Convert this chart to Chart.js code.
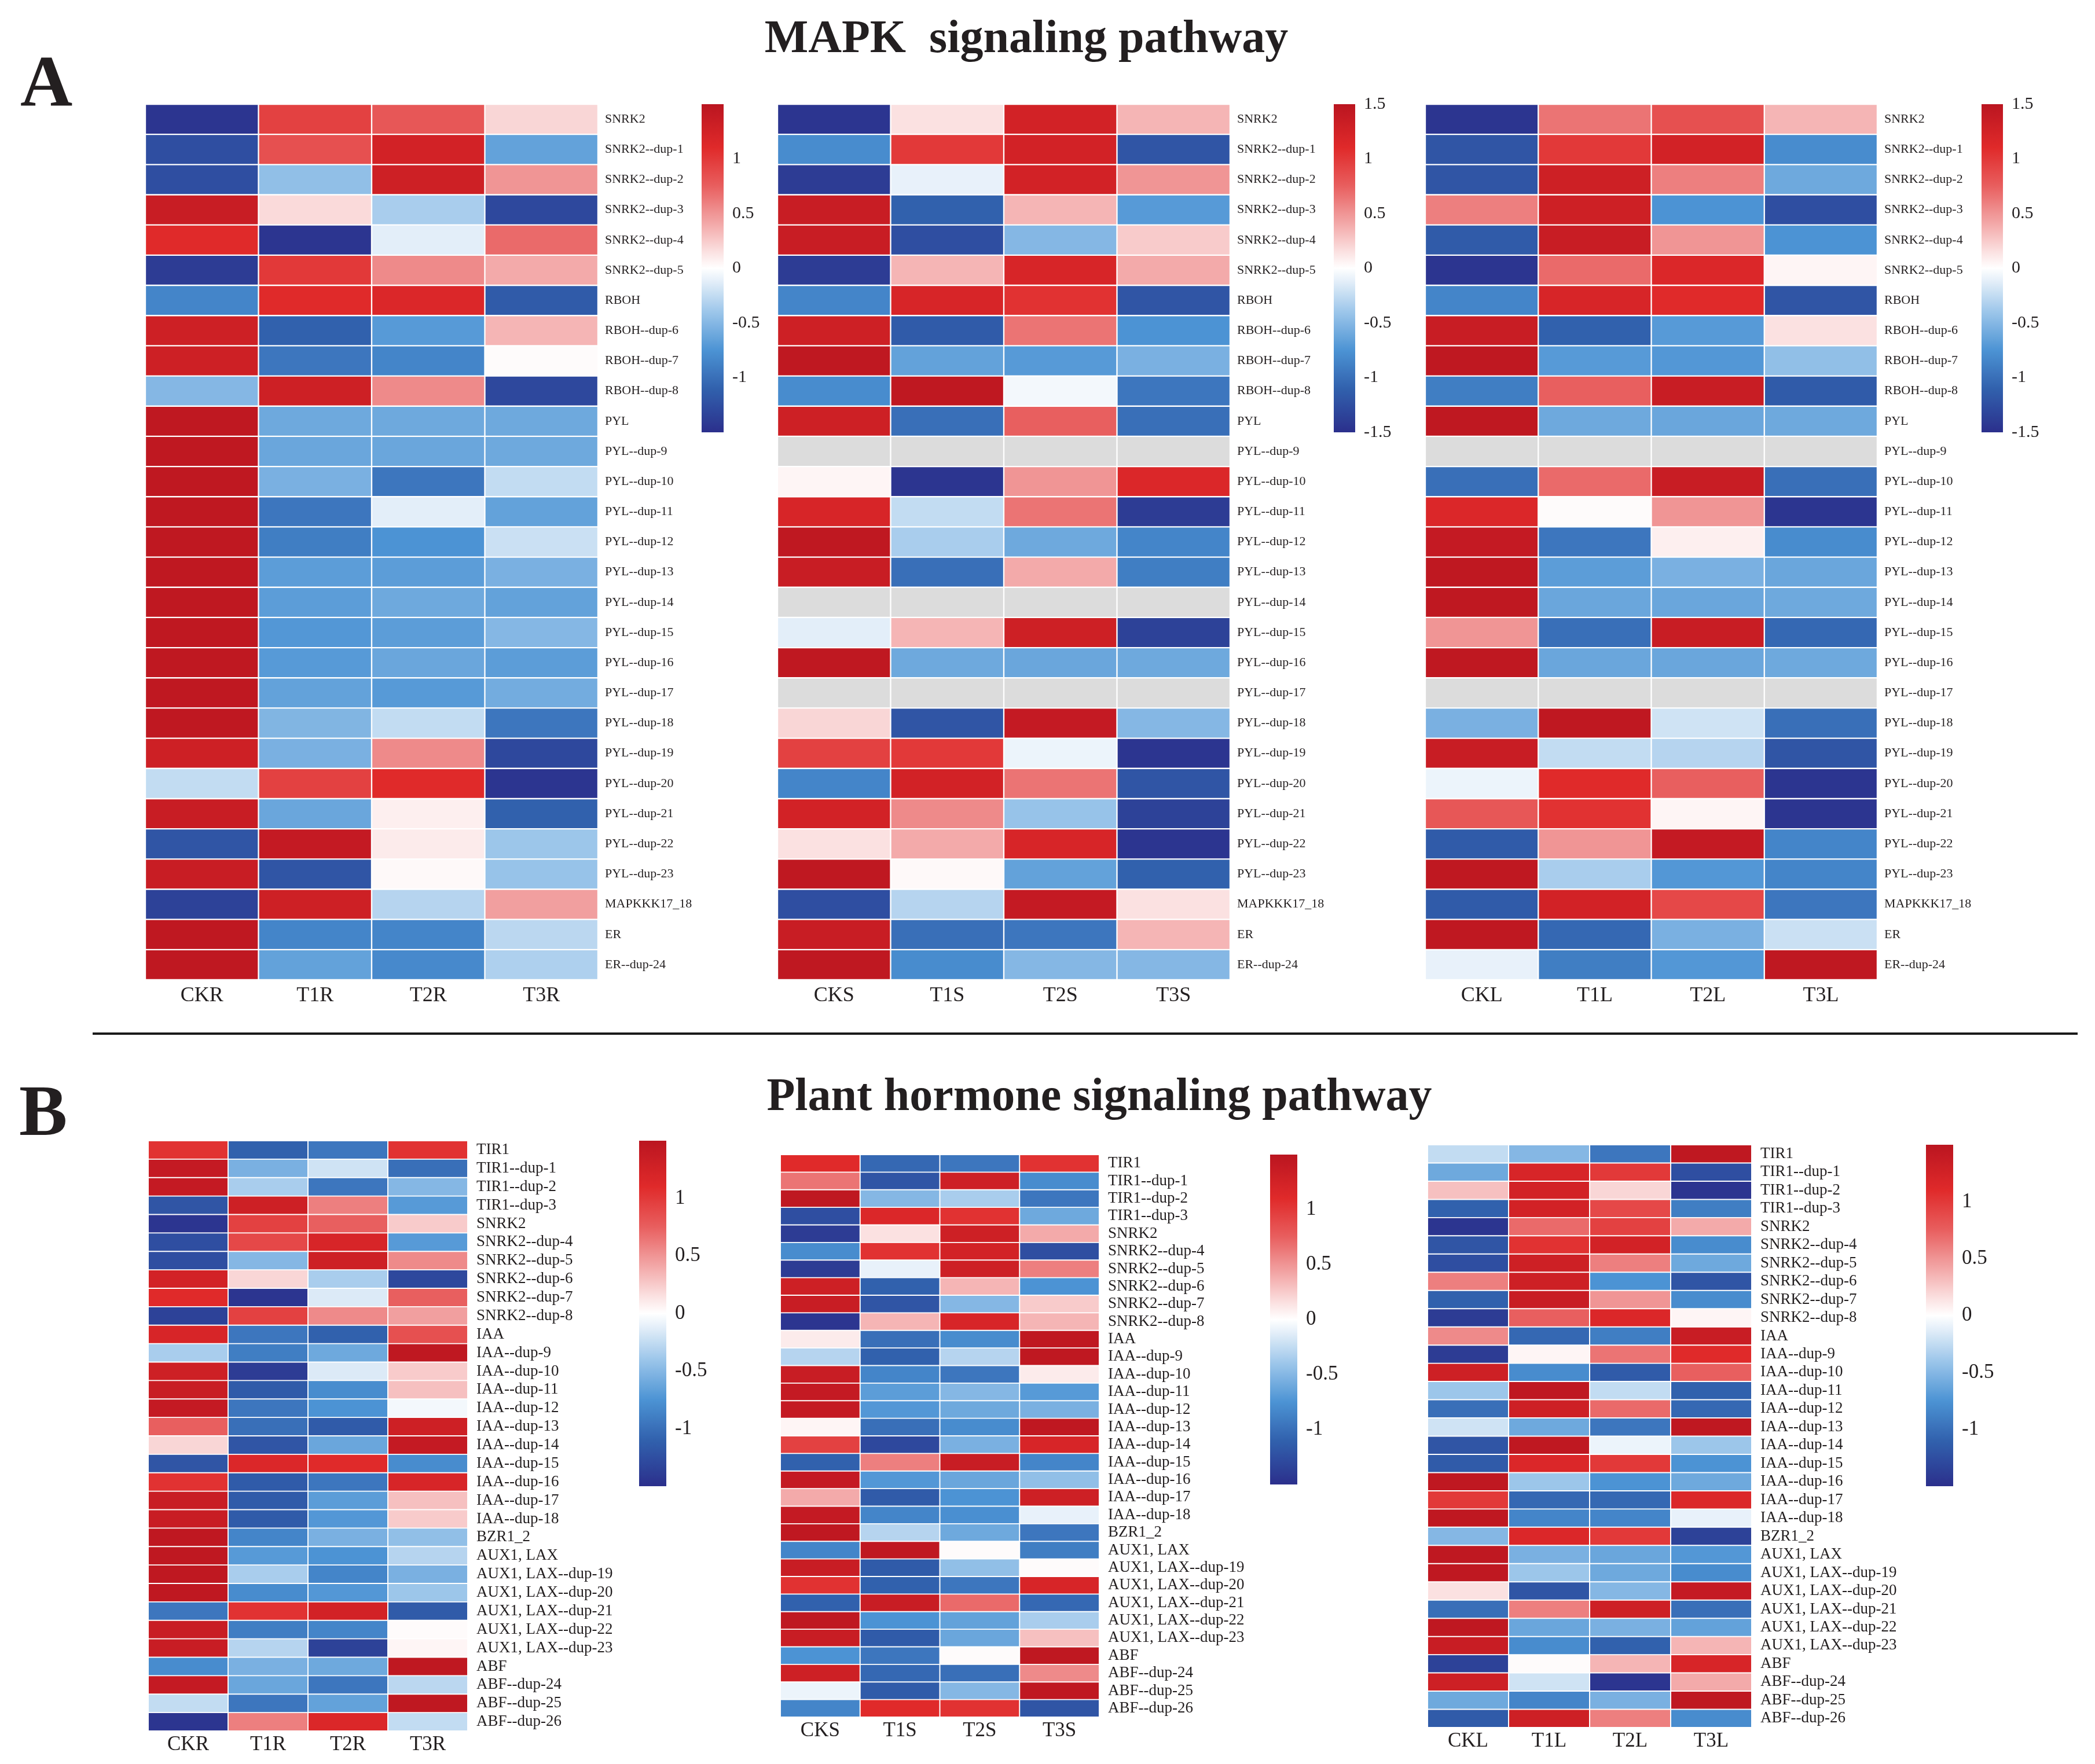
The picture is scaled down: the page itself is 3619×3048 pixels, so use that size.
<!DOCTYPE html>
<html>
<head>
<meta charset="utf-8">
<script src="https://cdn.jsdelivr.net/npm/chart.js@4.4.1/dist/chart.umd.min.js"></script>
<style>
  html, body { margin: 0; padding: 0; background: #fff; }
  #page { position: relative; width: 3619px; height: 3048px; background: #fff; overflow: hidden;
          font-family: "Liberation Serif", "Times New Roman", serif; color: #231f20; }
  .txt { position: absolute; white-space: pre; line-height: 1; font-weight: bold; }
  .rule { position: absolute; left: 160px; top: 1784px; width: 3429px; height: 4px; background: #1a1a1a; }
  canvas { position: absolute; }
</style>
</head>
<body>
<div id="page">
  <div class="txt" style="left:35px;top:78px;font-size:125px;">A</div>
  <div class="txt" style="left:1773px;top:23px;font-size:80px;transform:translateX(-50%);">MAPK  signaling pathway</div>
  <div class="rule"></div>
  <div class="txt" style="left:33px;top:1857px;font-size:125px;">B</div>
  <div class="txt" style="left:1899px;top:1851px;font-size:80px;transform:translateX(-50%);">Plant hormone signaling pathway</div>
</div>
<script>
// row / column labels
const mapkGenes = ['SNRK2', 'SNRK2--dup-1', 'SNRK2--dup-2', 'SNRK2--dup-3', 'SNRK2--dup-4', 'SNRK2--dup-5',
  'RBOH', 'RBOH--dup-6', 'RBOH--dup-7', 'RBOH--dup-8',
  'PYL', 'PYL--dup-9', 'PYL--dup-10', 'PYL--dup-11', 'PYL--dup-12', 'PYL--dup-13', 'PYL--dup-14',
  'PYL--dup-15', 'PYL--dup-16', 'PYL--dup-17', 'PYL--dup-18', 'PYL--dup-19', 'PYL--dup-20',
  'PYL--dup-21', 'PYL--dup-22', 'PYL--dup-23', 'MAPKKK17_18', 'ER', 'ER--dup-24'];
const hormoneGenes = ['TIR1', 'TIR1--dup-1', 'TIR1--dup-2', 'TIR1--dup-3',
  'SNRK2', 'SNRK2--dup-4', 'SNRK2--dup-5', 'SNRK2--dup-6', 'SNRK2--dup-7', 'SNRK2--dup-8',
  'IAA', 'IAA--dup-9', 'IAA--dup-10', 'IAA--dup-11', 'IAA--dup-12', 'IAA--dup-13', 'IAA--dup-14',
  'IAA--dup-15', 'IAA--dup-16', 'IAA--dup-17', 'IAA--dup-18', 'BZR1_2',
  'AUX1, LAX', 'AUX1, LAX--dup-19', 'AUX1, LAX--dup-20', 'AUX1, LAX--dup-21', 'AUX1, LAX--dup-22',
  'AUX1, LAX--dup-23', 'ABF', 'ABF--dup-24', 'ABF--dup-25', 'ABF--dup-26'];
const rootCols = ['CKR', 'T1R', 'T2R', 'T3R'];
const stemCols = ['CKS', 'T1S', 'T2S', 'T3S'];
const leafCols = ['CKL', 'T1L', 'T2L', 'T3L'];

// colour bar ticks
const ticksShort = [1, 0.5, 0, -0.5, -1];
const ticksFull = [1.5, 1, 0.5, 0, -0.5, -1, -1.5];

// scaled expression, one row per gene (null = no data, grey)
const mapkRoot = [
  [-1.45, 0.95, 0.8, 0.2], [-1.25, 0.85, 1.25, -0.65], [-1.25, -0.45, 1.3, 0.5],
  [1.35, 0.18, -0.35, -1.3], [1.1, -1.45, -0.12, 0.7], [-1.4, 1.0, 0.55, 0.4],
  [-0.85, 1.1, 1.15, -1.15], [1.3, -1.1, -0.7, 0.35], [1.3, -0.95, -0.85, 0.02],
  [-0.5, 1.3, 0.55, -1.3], [1.45, -0.6, -0.6, -0.6], [1.45, -0.62, -0.62, -0.6],
  [1.45, -0.55, -0.95, -0.25], [1.45, -0.95, -0.12, -0.65], [1.45, -0.9, -0.75, -0.22],
  [1.45, -0.68, -0.68, -0.55], [1.45, -0.68, -0.6, -0.65], [1.45, -0.72, -0.68, -0.5],
  [1.45, -0.7, -0.62, -0.68], [1.45, -0.65, -0.7, -0.58], [1.45, -0.52, -0.25, -0.95],
  [1.3, -0.55, 0.55, -1.3], [-0.25, 0.95, 1.1, -1.45], [1.35, -0.62, 0.08, -1.1],
  [-1.2, 1.4, 0.1, -0.4], [1.35, -1.2, 0.03, -0.42], [-1.35, 1.3, -0.3, 0.45],
  [1.45, -0.85, -0.85, -0.28], [1.45, -0.65, -0.82, -0.33]
];
const mapkStem = [
  [-1.45, 0.15, 1.25, 0.35], [-0.8, 1.0, 1.25, -1.2], [-1.4, -0.1, 1.25, 0.5],
  [1.35, -1.1, 0.35, -0.7], [1.35, -1.25, -0.5, 0.25], [-1.4, 0.35, 1.2, 0.4],
  [-0.85, 1.2, 1.05, -1.2], [1.3, -1.15, 0.65, -0.75], [1.45, -0.65, -0.7, -0.55],
  [-0.8, 1.45, -0.05, -0.95], [1.3, -1.0, 0.75, -1.0], [null, null, null, null],
  [0.05, -1.45, 0.5, 1.15], [1.2, -0.25, 0.65, -1.4], [1.45, -0.35, -0.6, -0.85],
  [1.35, -1.0, 0.4, -0.9], [null, null, null, null], [-0.12, 0.35, 1.3, -1.35],
  [1.45, -0.6, -0.62, -0.6], [null, null, null, null], [0.2, -1.2, 1.4, -0.5],
  [0.95, 1.0, -0.08, -1.45], [-0.85, 1.25, 0.65, -1.2], [1.25, 0.55, -0.42, -1.35],
  [0.15, 0.4, 1.2, -1.45], [1.45, 0.03, -0.65, -1.1], [-1.25, -0.3, 1.4, 0.15],
  [1.35, -1.0, -0.95, 0.35], [1.45, -0.8, -0.5, -0.5]
];
const mapkLeaf = [
  [-1.45, 0.65, 0.85, 0.35], [-1.2, 1.0, 1.25, -0.8], [-1.2, 1.3, 0.6, -0.6],
  [0.6, 1.3, -0.75, -1.25], [-1.15, 1.35, 0.5, -0.75], [-1.45, 0.7, 1.15, 0.05],
  [-0.85, 1.2, 1.1, -1.2], [1.35, -1.1, -0.7, 0.15], [1.45, -0.7, -0.72, -0.45],
  [-0.9, 0.75, 1.35, -1.15], [1.45, -0.6, -0.62, -0.6], [null, null, null, null],
  [-1.0, 0.7, 1.35, -1.0], [1.15, 0.02, 0.5, -1.45], [1.4, -0.95, 0.08, -0.8],
  [1.45, -0.68, -0.55, -0.62], [1.45, -0.62, -0.62, -0.6], [0.5, -1.0, 1.35, -1.05],
  [1.45, -0.62, -0.62, -0.6], [null, null, null, null], [-0.55, 1.45, -0.2, -1.0],
  [1.35, -0.25, -0.3, -1.2], [-0.08, 1.1, 0.75, -1.45], [0.8, 1.05, 0.05, -1.45],
  [-1.15, 0.5, 1.4, -0.85], [1.45, -0.35, -0.72, -0.85], [-1.15, 1.25, 0.9, -0.95],
  [1.45, -1.05, -0.55, -0.22], [-0.1, -0.9, -0.72, 1.45]
];
const hormoneRoot = [
  [1.05, -1.1, -0.95, 1.05], [1.4, -0.55, -0.2, -1.0], [1.4, -0.35, -0.95, -0.5], [-1.2, 1.3, 0.6, -0.7],
  [-1.45, 0.95, 0.75, 0.25], [-1.25, 0.9, 1.2, -0.7], [-1.25, -0.5, 1.3, 0.55], [1.25, 0.2, -0.35, -1.3],
  [1.1, -1.45, -0.15, 0.75], [-1.35, 0.95, 0.55, 0.45],
  [1.2, -0.95, -1.1, 0.85], [-0.35, -0.9, -0.6, 1.45], [1.3, -1.4, -0.15, 0.25], [1.35, -1.15, -0.8, 0.3],
  [1.4, -0.95, -0.75, -0.05], [0.75, -1.0, -1.15, 1.3], [0.2, -1.2, -0.62, 1.4], [-1.2, 1.15, 1.1, -0.8],
  [1.05, -1.15, -0.95, 1.2], [1.35, -1.15, -0.68, 0.3], [1.35, -1.15, -0.72, 0.25],
  [1.45, -0.85, -0.55, -0.45],
  [1.45, -0.7, -0.75, -0.3], [1.45, -0.35, -0.85, -0.55], [1.45, -0.8, -0.72, -0.4], [-0.95, 1.05, 1.25, -1.15],
  [1.35, -0.9, -0.85, 0.02], [1.35, -0.3, -1.35, 0.05],
  [-0.8, -0.55, -0.6, 1.45], [1.4, -0.62, -0.95, -0.28], [-0.25, -0.95, -0.65, 1.45], [-1.45, 0.6, 1.15, -0.25]
];
const hormoneStem = [
  [1.1, -1.05, -0.95, 1.05], [0.65, -1.2, 1.3, -0.8], [1.45, -0.5, -0.35, -0.95], [-1.25, 1.15, 1.05, -0.6],
  [-1.4, 0.15, 1.3, 0.4], [-0.8, 1.05, 1.25, -1.25], [-1.4, -0.1, 1.3, 0.6], [1.3, -1.1, 0.35, -0.75],
  [1.35, -1.2, -0.5, 0.25], [-1.45, 0.35, 1.2, 0.35],
  [0.1, -1.0, -0.8, 1.45], [-0.3, -1.1, -0.3, 1.45], [1.35, -0.85, -0.95, 0.1], [1.4, -0.68, -0.5, -0.7],
  [1.4, -0.72, -0.6, -0.55], [0.05, -1.0, -0.8, 1.45], [0.95, -1.3, -0.55, 1.2], [-1.1, 0.6, 1.35, -0.85],
  [1.4, -0.72, -0.62, -0.45], [0.4, -1.15, -0.75, 1.3], [1.4, -0.85, -0.78, -0.1],
  [1.45, -0.3, -0.6, -0.95],
  [-0.85, 1.45, 0.02, -0.9], [1.35, -1.15, -0.45, 0.02], [1.05, -1.1, -0.95, 1.2], [-1.1, 1.35, 0.7, -1.05],
  [1.45, -0.75, -0.65, -0.35], [1.35, -1.15, -0.62, 0.3],
  [-0.75, -0.95, 0.02, 1.45], [1.3, -1.05, -1.0, 0.55], [-0.08, -1.15, -0.5, 1.45], [-0.85, 1.1, 1.05, -1.2]
];
const hormoneLeaf = [
  [-0.25, -0.5, -0.95, 1.45], [-0.6, 1.2, 1.0, -1.25], [0.3, 1.25, 0.2, -1.45], [-1.1, 1.25, 0.9, -0.9],
  [-1.45, 0.7, 0.95, 0.4], [-1.2, 1.05, 1.25, -0.8], [-1.25, 1.3, 0.6, -0.6], [0.6, 1.3, -0.75, -1.2],
  [-1.1, 1.35, 0.5, -0.8], [-1.4, 0.75, 1.15, 0.05],
  [0.55, -1.05, -0.9, 1.35], [-1.4, 0.05, 0.65, 1.1], [1.3, -0.8, -1.15, 0.75], [-0.4, 1.45, -0.25, -1.1],
  [-1.0, 1.3, 0.7, -1.05], [-0.2, -0.6, -0.95, 1.45], [-1.2, 1.45, -0.08, -0.4], [-1.15, 1.15, 1.0, -0.75],
  [1.45, -0.4, -0.75, -0.6], [1.0, -1.05, -1.05, 1.15], [1.45, -0.85, -0.85, -0.1],
  [-0.5, 1.15, 1.0, -1.35],
  [1.45, -0.55, -0.62, -0.72], [1.45, -0.4, -0.6, -0.8], [0.15, -1.2, -0.5, 1.4], [-1.0, 0.6, 1.3, -1.0],
  [1.45, -0.62, -0.55, -0.65], [1.35, -0.8, -1.1, 0.35],
  [-1.35, 0.02, 0.35, 1.2], [1.3, -0.2, -1.45, 0.4], [-0.6, -0.85, -0.55, 1.45], [-1.15, 1.3, 0.6, -0.8]
];

// navy - white - firebrick palette
const palette = [
  [-1.5, '#2b2f8c'], [-1.1, '#3161ad'], [-0.75, '#4c93d4'], [-0.4, '#9cc6ea'], [-0.15, '#dceaf7'],
  [0, '#ffffff'], [0.15, '#fbe1e1'], [0.4, '#f3aaaa'], [0.75, '#e85f5f'], [1.1, '#e02a2a'], [1.5, '#ba1520']
];
const naColor = '#dcdcdc';
const ink = '#231f20';
const serif = '"Liberation Serif", "Times New Roman", serif';

function rgb(h) {
  return [1, 3, 5].map(i => parseInt(h.slice(i, i + 2), 16));
}
function colorFor(v) {
  if (v === null) return naColor;
  v = Math.max(-1.5, Math.min(1.5, v));
  for (let i = 1; i < palette.length; i++) {
    if (v <= palette[i][0]) {
      const [v0, c0] = palette[i - 1], [v1, c1] = palette[i];
      const t = (v - v0) / (v1 - v0);
      const a = rgb(c0), b = rgb(c1);
      const m = a.map((x, k) => Math.round(x + (b[k] - x) * t));
      return `rgb(${m[0]},${m[1]},${m[2]})`;
    }
  }
  return palette[palette.length - 1][1];
}

function makeCanvas(left, topPx, w, h) {
  const cv = document.createElement('canvas');
  cv.width = w; cv.height = h;
  cv.style.left = left + 'px'; cv.style.top = topPx + 'px';
  cv.style.width = w + 'px'; cv.style.height = h + 'px';
  document.getElementById('page').appendChild(cv);
  return cv;
}

// keep the plot area exactly where the layout puts it
function noEdgePadding(s) {
  s.paddingTop = 0; s.paddingBottom = 0; s.paddingLeft = 0; s.paddingRight = 0;
}

function heatmap(p) {
  const pad = 10;
  const cv = makeCanvas(p.x, p.y - pad, p.w + p.labelW, p.h + pad + p.axisH);
  new Chart(cv, {
    type: 'bar',
    data: {
      labels: p.genes,
      datasets: p.cols.map((c, ci) => ({
        label: c,
        data: p.genes.map(() => [ci, ci + 1]),
        backgroundColor: p.vals.map(row => colorFor(row[ci])),
        borderColor: '#ffffff',
        borderWidth: p.gap,
        borderSkipped: false,
        barPercentage: 1,
        categoryPercentage: 1,
        grouped: false
      }))
    },
    options: {
      indexAxis: 'y',
      responsive: false,
      devicePixelRatio: 1,
      animation: false,
      events: [],
      layout: { padding: { top: pad, left: 0, right: 0, bottom: 0 } },
      plugins: { legend: { display: false }, tooltip: { enabled: false } },
      scales: {
        x: {
          type: 'linear', min: 0, max: 4,
          grid: { display: false, drawTicks: false }, border: { display: false },
          afterBuildTicks: s => { s.ticks = [0.5, 1.5, 2.5, 3.5].map(v => ({ value: v })); },
          afterFit: s => { s.height = p.axisH; noEdgePadding(s); },
          ticks: { autoSkip: false, maxRotation: 0, padding: p.colPad, color: ink,
                   font: { family: serif, size: p.colFont }, callback: (v, i) => p.cols[i] }
        },
        y: {
          position: 'right',
          grid: { display: false, drawTicks: false }, border: { display: false },
          afterFit: s => { s.width = p.labelW; noEdgePadding(s); },
          ticks: { autoSkip: false, padding: p.rowPad, color: ink, font: { family: serif, size: p.rowFont } }
        }
      }
    }
  });
}

function barGradient(chart) {
  const area = chart.chartArea;
  if (!area) return naColor;
  const g = chart.ctx.createLinearGradient(0, area.bottom, 0, area.top);
  for (let i = 0; i <= 60; i++) g.addColorStop(i / 60, colorFor(-1.5 + 3 * i / 60));
  return g;
}

function colorbar(b) {
  const pad = 30;
  const cv = makeCanvas(b.x, b.y - pad, b.w + b.labelW, b.h + 2 * pad);
  new Chart(cv, {
    type: 'bar',
    data: {
      labels: [''],
      datasets: [{ data: [[-1.5, 1.5]], backgroundColor: ctx => barGradient(ctx.chart),
                   borderWidth: 0, barPercentage: 1, categoryPercentage: 1 }]
    },
    options: {
      responsive: false,
      devicePixelRatio: 1,
      animation: false,
      events: [],
      layout: { padding: { top: pad, bottom: pad, left: 0, right: 0 } },
      plugins: { legend: { display: false }, tooltip: { enabled: false } },
      scales: {
        x: { display: false },
        y: {
          position: 'right', min: -1.5, max: 1.5,
          grid: { display: false, drawTicks: false }, border: { display: false },
          afterBuildTicks: s => { s.ticks = b.ticks.map(v => ({ value: v })); },
          afterFit: s => { s.width = b.labelW; noEdgePadding(s); },
          ticks: { padding: 15, color: ink, font: { family: serif, size: b.font }, callback: v => String(v) }
        }
      }
    }
  });
}

const topRow = { labelW: 220, axisH: 70, rowFont: 22, rowPad: 12, colFont: 36, colPad: 6, gap: 1.5 };
const bottomRow = { labelW: 300, axisH: 60, rowFont: 27, rowPad: 15, colFont: 35, colPad: 3, gap: 1.3 };

heatmap({ ...topRow, genes: mapkGenes, cols: rootCols, vals: mapkRoot, x: 251, y: 180, w: 782, h: 1513 });
heatmap({ ...topRow, genes: mapkGenes, cols: stemCols, vals: mapkStem, x: 1343, y: 180, w: 782, h: 1513 });
heatmap({ ...topRow, genes: mapkGenes, cols: leafCols, vals: mapkLeaf, x: 2462, y: 180, w: 781, h: 1513 });
heatmap({ ...bottomRow, genes: hormoneGenes, cols: rootCols, vals: hormoneRoot, x: 256, y: 1971, w: 552, h: 1020 });
heatmap({ ...bottomRow, genes: hormoneGenes, cols: stemCols, vals: hormoneStem, x: 1348, y: 1995, w: 551, h: 972 });
heatmap({ ...bottomRow, genes: hormoneGenes, cols: leafCols, vals: hormoneLeaf, x: 2466, y: 1978, w: 560, h: 1007 });

colorbar({ x: 1212, y: 180, w: 38, h: 567, labelW: 90, font: 30, ticks: ticksShort });
colorbar({ x: 2304, y: 180, w: 37, h: 567, labelW: 90, font: 30, ticks: ticksFull });
colorbar({ x: 3423, y: 180, w: 37, h: 567, labelW: 90, font: 30, ticks: ticksFull });
colorbar({ x: 1104, y: 1971, w: 47, h: 597, labelW: 100, font: 35, ticks: ticksShort });
colorbar({ x: 2194, y: 1995, w: 47, h: 570, labelW: 100, font: 35, ticks: ticksShort });
colorbar({ x: 3327, y: 1978, w: 47, h: 590, labelW: 100, font: 35, ticks: ticksShort });
</script>
</body>
</html>
